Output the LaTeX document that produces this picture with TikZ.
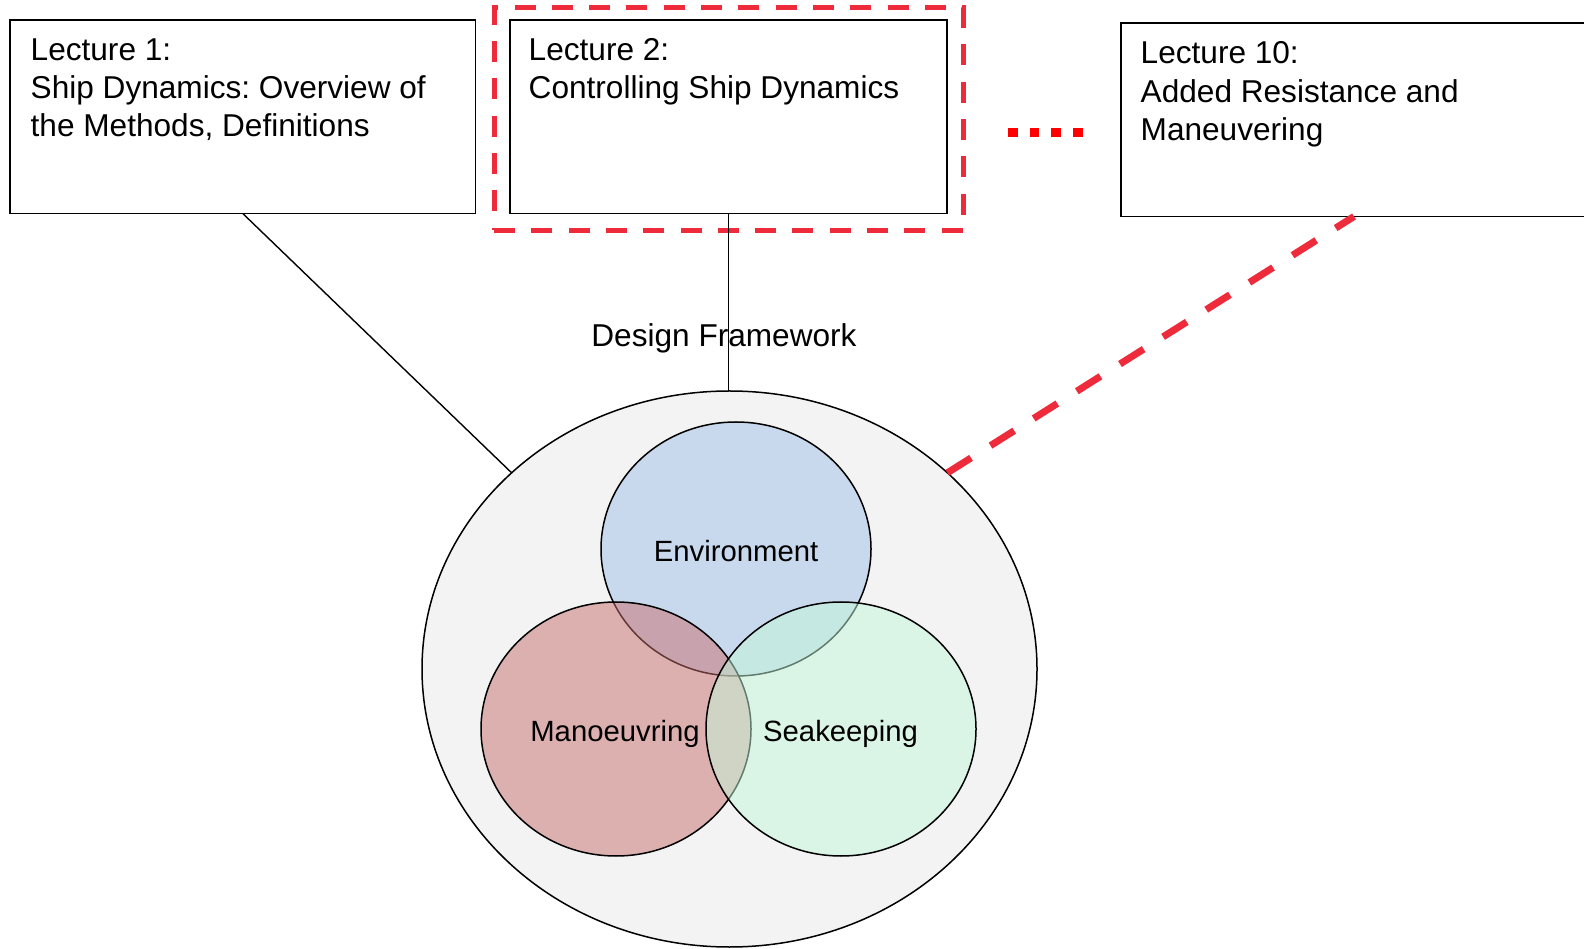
\documentclass[tikz,border=0pt]{standalone}
\usepackage{fontspec}
\setmainfont{Liberation Sans}
\usetikzlibrary{shapes.geometric}
\frenchspacing
\definecolor{hlred}{RGB}{238,43,59}
\definecolor{dotred}{RGB}{255,0,0}
\definecolor{bigfill}{RGB}{243,243,243}
\definecolor{envc}{RGB}{160,192,232}
\definecolor{manc}{RGB}{200,110,110}
\definecolor{seac}{RGB}{194,248,218}
\tikzset{
  lecbox/.style={draw=black, line width=1.5pt, fill=white, inner sep=0pt, outer sep=0pt, minimum height=193.5pt},
  lectext/.style={anchor=north west, align=left, inner sep=0pt, font=\fontsize{31.6}{38.4}\selectfont\frenchspacing},
  venn/.style={ellipse, draw=black, line width=1.5pt, fill opacity=0.5, draw opacity=1, inner sep=0pt, outer sep=0pt, minimum width=270pt, minimum height=254pt},
  vlabel/.style={anchor=base, inner sep=0pt, font=\fontsize{29.3}{35}\selectfont},
  conn/.style={draw=black, line width=1.4pt},
  hlrect/.style={draw=hlred, line width=5pt, dash pattern=on 21pt off 16.3pt, inner sep=0pt, outer sep=0pt, minimum width=469pt, minimum height=222.5pt},
  hlline/.style={draw=hlred, line width=7pt, dash pattern=on 28pt off 23pt},
  dotline/.style={draw=dotred, line width=9pt, dash pattern=on 9.5pt off 12.2pt}
}
\begin{document}
\begin{tikzpicture}[x=1pt,y=1pt]
\useasboundingbox (0,0) rectangle (1584,948);
\clip (0,0) rectangle (1584,948);
\fill[white] (0,0) rectangle (1584,948);

% big framework ellipse
\node[ellipse, draw=black, line width=1.5pt, fill=bigfill, inner sep=0pt, outer sep=0pt,
      minimum width=615pt, minimum height=556pt] (big) at (729.5,279) {};

% venn circles
\node[venn, fill=envc] (env) at (736,399) {};
\node[venn, fill=manc] (man) at (616,219) {};
\node[venn, fill=seac] (sea) at (841,219) {};
\node[vlabel] (envl) at (736,386) {Environment};
\node[vlabel] (manl) at (615,207) {Manoeuvring};
\node[vlabel] (seal) at (840.5,207) {Seakeeping};

% lecture boxes
\node[lecbox, minimum width=465.5pt] (box1) at (242.75,831.25) {};
\node[lecbox, minimum width=437pt] (box2) at (728.5,831.25) {};
\node[lecbox, minimum width=466pt] (box3) at (1354,828.25) {};
\node[lectext] (t1) at (30.5,912) {\rule{0pt}{24pt}Lecture 1:\\Ship Dynamics: Overview of\\the Methods, Definitions};
\node[lectext] (t2) at (528.5,912) {\rule{0pt}{24pt}Lecture 2:\\Controlling Ship Dynamics};
\node[lectext] (t3) at (1140.5,908.2) {\rule{0pt}{24pt}Lecture 10:\\Added Resistance and\\Maneuvering};

% highlight rectangle
\node[hlrect] (hl) at (728.5,828.75) {};

% connectors
\draw[conn] (box1.south) -- (big.138.1);
\draw[conn] (box2.south) -- (box2.south |- big.north);
\draw[hlline] (big.42.3) -- (box3.south);

% dotted ellipsis
\coordinate (dotA) at (1008,815.5);
\coordinate (dotB) at (1083,815.5);
\draw[dotline] (dotA) -- (dotB);

% label
\node[anchor=base, inner sep=0pt, font=\fontsize{31.6}{38}\selectfont] (df) at (724,601) {Design Framework};
\end{tikzpicture}
\end{document}
